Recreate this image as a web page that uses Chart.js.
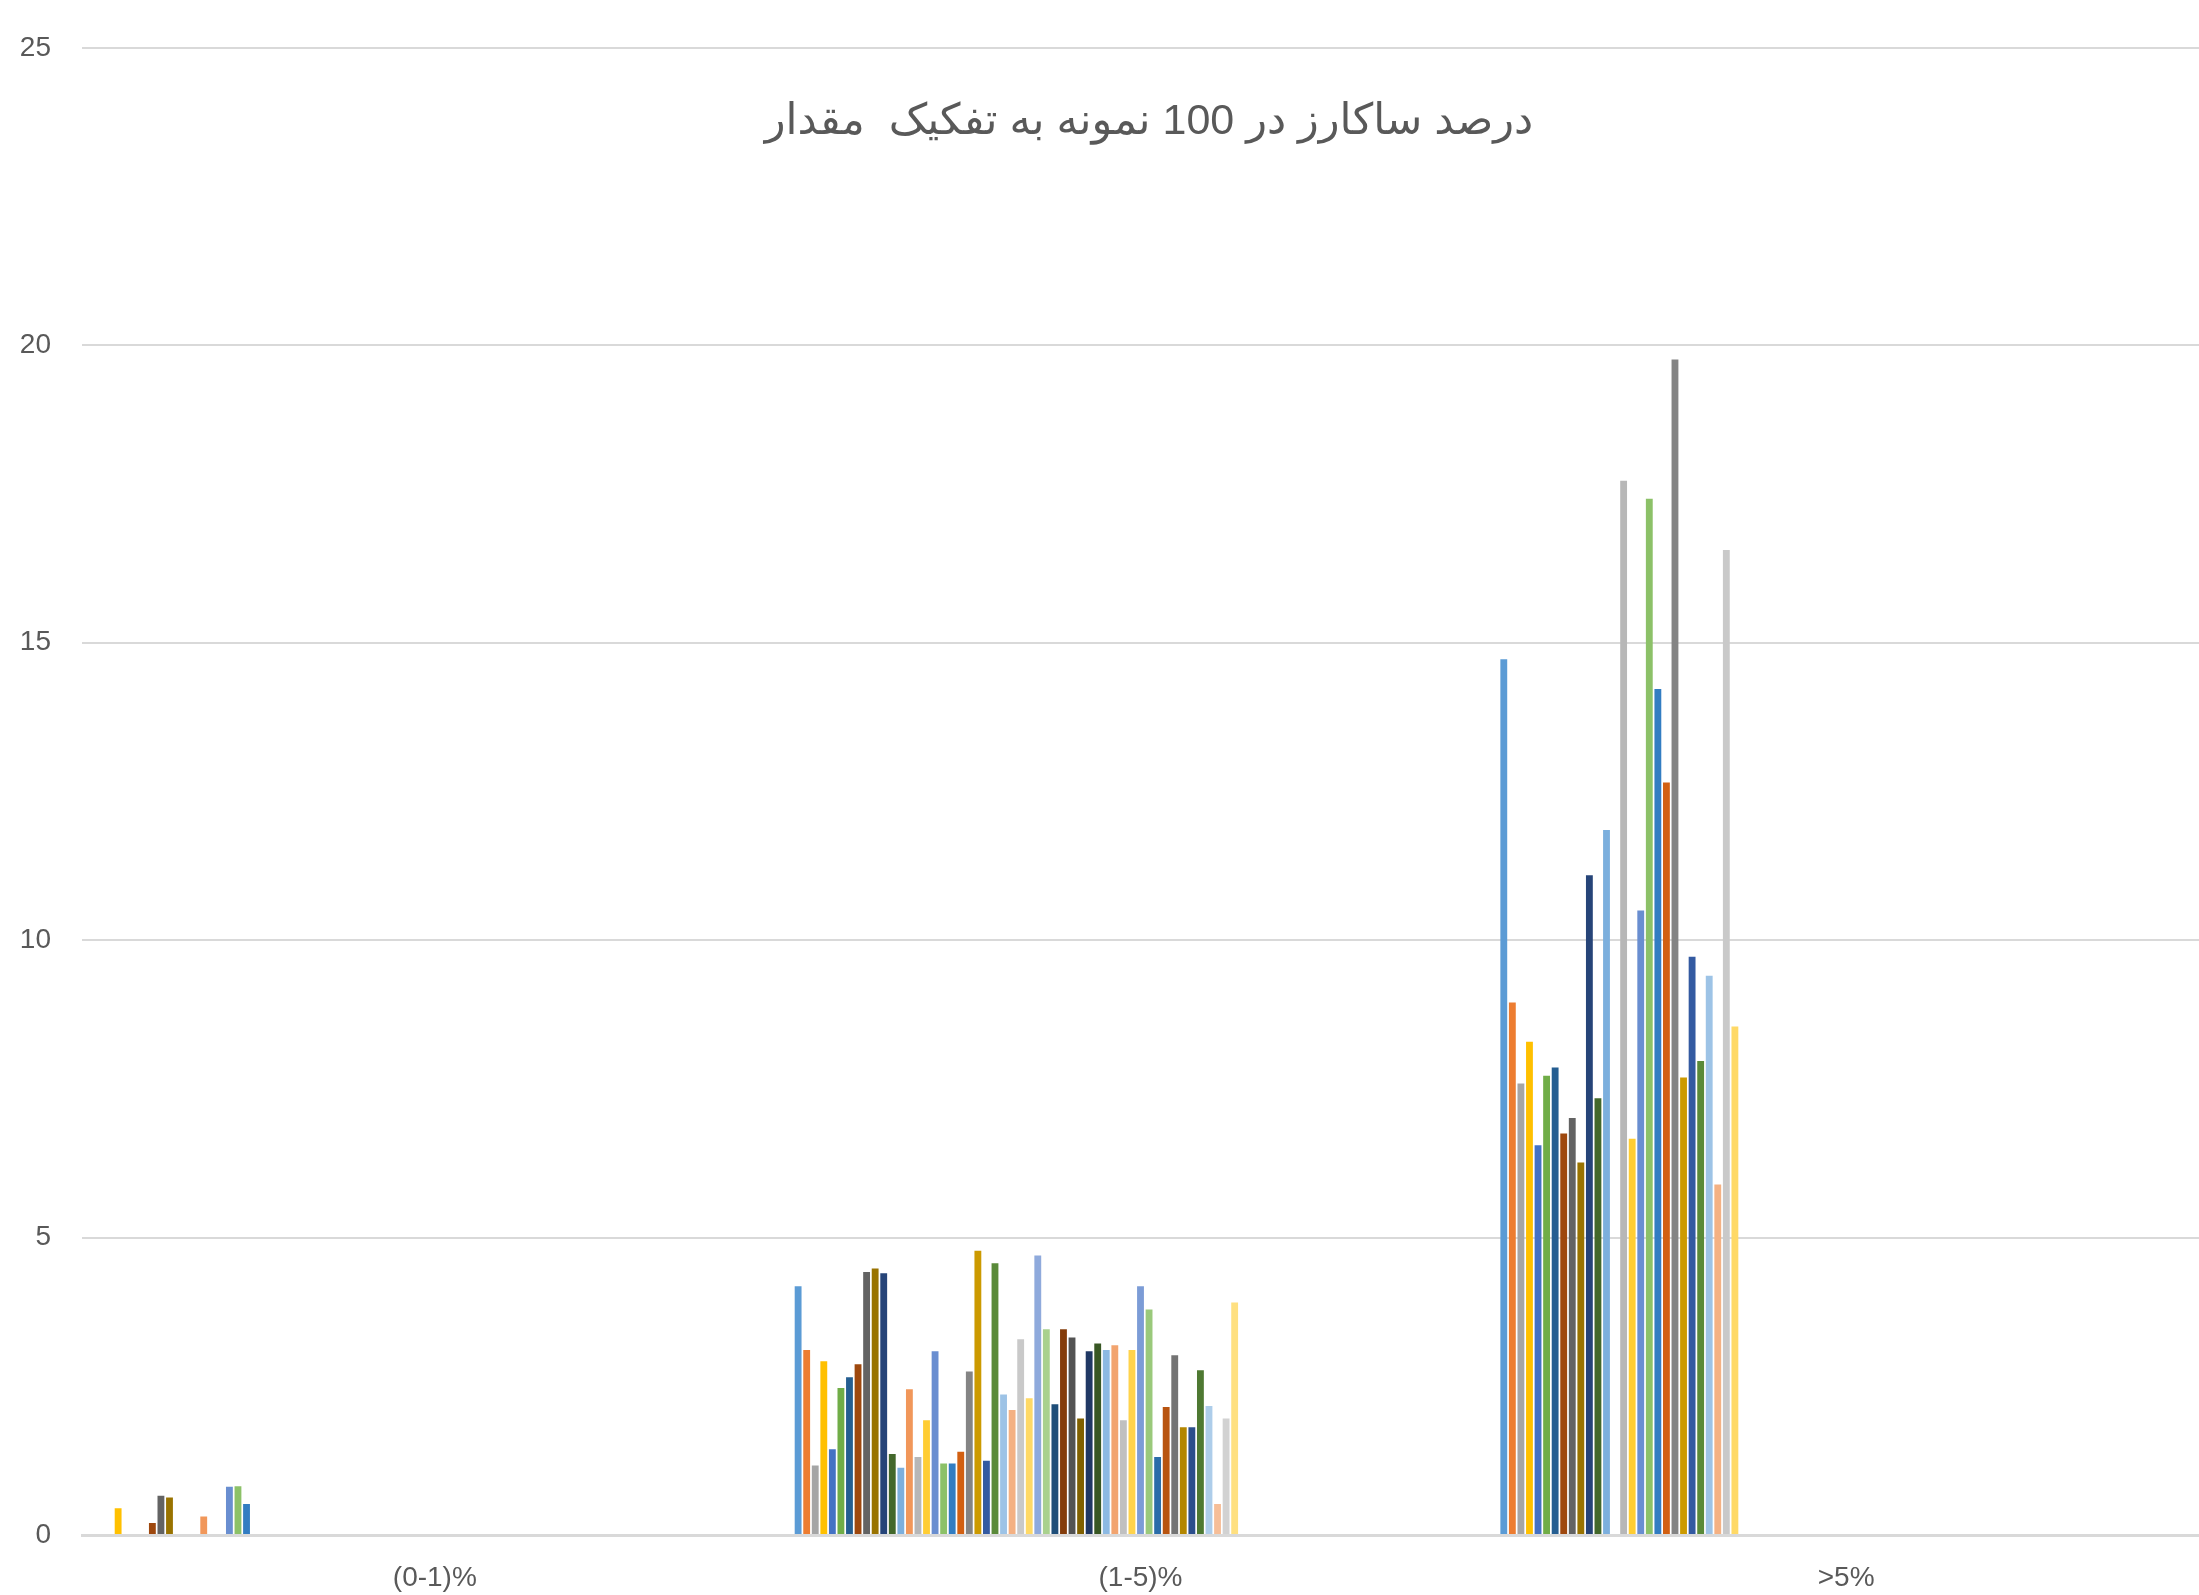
<!DOCTYPE html>
<html>
<head>
<meta charset="utf-8">
<script src="https://cdn.jsdelivr.net/npm/chart.js@4.4.1/dist/chart.umd.min.js"></script>
<style>
html,body{margin:0;padding:0;background:#ffffff;}
canvas{display:block;}
</style>
</head>
<body>
<canvas id="c" width="2199" height="1595"></canvas>
<script>
// ---------- DATA ----------
const categories = ['(0-1)%', '(1-5)%', '>5%'];
const yTickValues = [0, 5, 10, 15, 20, 25];
const chartTitle = 'درصد ساکارز در 100 نمونه به تفکیک  مقدار';

// value of each series (sample) in category (0-1)%
const valuesLow = [
  0, 0, 0, 0.45, 0, 0, 0, 0.20, 0.66, 0.63,
  0, 0, 0, 0.31, 0, 0, 0.81, 0.82, 0.52, 0,
  0, 0, 0, 0, 0, 0, 0, 0, 0, 0,
  0, 0, 0, 0, 0, 0, 0, 0, 0, 0,
  0, 0, 0, 0, 0, 0, 0, 0, 0, 0,
  0, 0, 0, 0, 0, 0, 0, 0, 0, 0,
  0, 0, 0, 0, 0, 0, 0, 0, 0, 0,
  0, 0, 0, 0, 0, 0, 0, 0, 0, 0,
  0
];
// value of each series in category (1-5)%
const valuesMid = [
  4.18, 3.11, 1.17, 2.92, 1.44, 2.47, 2.65, 2.87, 4.42, 4.48,
  4.40, 1.36, 1.13, 2.45, 1.31, 1.93, 3.09, 1.20, 1.20, 1.40,
  2.75, 4.78, 1.25, 4.57, 2.36, 2.10, 3.29, 2.30, 4.70, 3.46,
  2.20, 3.46, 3.32, 1.96, 3.09, 3.22, 3.11, 3.19, 1.93, 3.11,
  4.18, 3.79, 1.31, 2.15, 3.02, 1.81, 1.81, 2.77, 2.17, 0.52,
  1.96, 3.91, 0, 0, 0, 0, 0, 0, 0, 0,
  0, 0, 0, 0, 0, 0, 0, 0, 0, 0,
  0, 0, 0, 0, 0, 0, 0, 0, 0, 0,
  0
];
// value of each series in category >5%
const valuesHigh = [
  14.72, 8.95, 7.59, 8.29, 6.55, 7.72, 7.86, 6.75, 7.01, 6.26,
  11.09, 7.34, 11.85, 0, 17.72, 6.66, 10.50, 17.42, 14.22, 12.65,
  19.76, 7.69, 9.72, 7.97, 9.40, 5.89, 16.56, 8.55, 0, 0,
  0, 0, 0, 0, 0, 0, 0, 0, 0, 0,
  0, 0, 0, 0, 0, 0, 0, 0, 0, 0,
  0, 0, 0, 0, 0, 0, 0, 0, 0, 0,
  0, 0, 0, 0, 0, 0, 0, 0, 0, 0,
  0, 0, 0, 0, 0, 0, 0, 0, 0, 0,
  0
];

// ---------- STYLE (Office palette with luminance variations) ----------
const accents = ['#5B9BD5', '#ED7D31', '#A5A5A5', '#FFC000', '#4472C4', '#70AD47'];
const lumVariations = [[1,0],[0.6,0],[0.8,0.2],[0.8,0],[0.6,0.4],[0.5,0],[0.7,0.3],[0.7,0],[0.5,0.5]];

function hexToHsl(hex){
  const r=parseInt(hex.slice(1,3),16)/255,g=parseInt(hex.slice(3,5),16)/255,b=parseInt(hex.slice(5,7),16)/255;
  const mx=Math.max(r,g,b),mn=Math.min(r,g,b);let h=0,s=0;const l=(mx+mn)/2;const d=mx-mn;
  if(d>0){s=d/(1-Math.abs(2*l-1));
    if(mx===r)h=((g-b)/d)%6;else if(mx===g)h=(b-r)/d+2;else h=(r-g)/d+4;h*=60;if(h<0)h+=360;}
  return [h,s,l];
}
function hslToHex(h,s,l){
  const c=(1-Math.abs(2*l-1))*s,x=c*(1-Math.abs((h/60)%2-1)),m=l-c/2;let r=0,g=0,b=0;
  if(h<60){r=c;g=x;}else if(h<120){r=x;g=c;}else if(h<180){g=c;b=x;}else if(h<240){g=x;b=c;}else if(h<300){r=x;b=c;}else{r=c;b=x;}
  const t=v=>Math.round(Math.min(1,Math.max(0,v+m))*255).toString(16).padStart(2,'0');
  return '#'+t(r)+t(g)+t(b);
}
function seriesColor(i){
  const [h,s,l]=hexToHsl(accents[i%6]);
  const [mod,off]=lumVariations[Math.floor(i/6)%lumVariations.length];
  return hslToHex(h,s,Math.min(1,l*mod+off));
}

const datasets = valuesLow.map((_, i) => ({
  label: 'Series ' + (i + 1),
  data: [valuesLow[i], valuesMid[i], valuesHigh[i]],
  backgroundColor: seriesColor(i),
  borderWidth: 0,
  categoryPercentage: 0.9825,
  barPercentage: 0.8
}));

const FONT = '"Liberation Sans", "DejaVu Sans", sans-serif';

const inlineTitle = {
  id: 'inlineTitle',
  afterDraw(chart){
    const ctx = chart.ctx;
    const area = chart.chartArea;
    ctx.save();
    ctx.font = '43px ' + FONT;
    ctx.fillStyle = '#595959';
    ctx.direction = 'rtl';
    ctx.textAlign = 'center';
    ctx.textBaseline = 'middle';
    ctx.fillText(chartTitle, area.left + (area.right - area.left) * 0.504, area.top + 74);
    ctx.restore();
  }
};

new Chart(document.getElementById('c'), {
  type: 'bar',
  data: { labels: categories, datasets },
  options: {
    responsive: false,
    devicePixelRatio: 1,
    animation: false,
    layout: { padding: { top: 46, right: 0, bottom: 0, left: 0 } },
    plugins: { legend: { display: false }, tooltip: { enabled: false }, title: { display: false } },
    scales: {
      x: {
        grid: { display: false, drawTicks: false },
        border: { display: true, color: '#D9D9D9', width: 3 },
        ticks: { color: '#595959', font: { size: 28, family: FONT }, padding: 26, maxRotation: 0 },
        afterFit(scale){ scale.height = 60; }
      },
      y: {
        min: 0, max: 25,
        afterBuildTicks(scale){ scale.ticks = yTickValues.map(v => ({ value: v })); },
        grid: { color: '#D9D9D9', lineWidth: 2, drawTicks: false },
        border: { display: false },
        ticks: { color: '#595959', font: { size: 28, family: FONT }, padding: 31 },
        afterFit(scale){ scale.width = 82; }
      }
    }
  },
  plugins: [inlineTitle]
});
</script>
</body>
</html>
